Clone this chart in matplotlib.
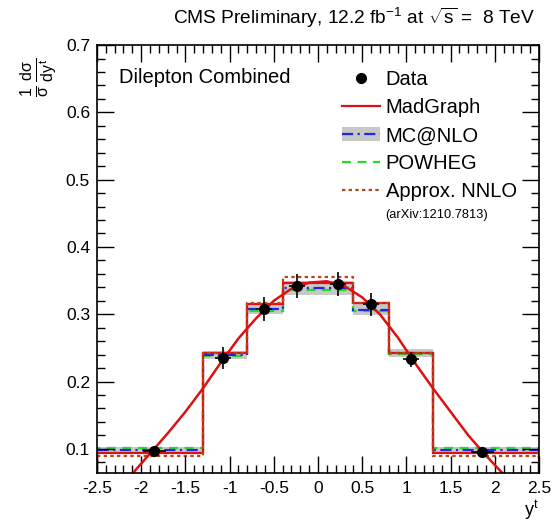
import matplotlib
matplotlib.use("Agg")
import matplotlib.pyplot as plt
from matplotlib.lines import Line2D
from matplotlib.patches import Patch
from matplotlib.ticker import MultipleLocator

plt.rcParams["font.family"] = ["Liberation Sans", "DejaVu Sans"]
plt.rcParams["mathtext.fontset"] = "custom"
plt.rcParams["mathtext.rm"] = "Liberation Sans"
plt.rcParams["mathtext.it"] = "Liberation Sans"
plt.rcParams["axes.unicode_minus"] = False

# rapidity bins
edges = [-2.5, -1.3, -0.8, -0.4, 0.0, 0.4, 0.8, 1.3, 2.5]

# data points
data_x = [-1.85, -1.07, -0.61, -0.24, 0.23, 0.60, 1.05, 1.86]
data_y = [0.097, 0.235, 0.308, 0.342, 0.345, 0.315, 0.233, 0.095]
data_yerr = [0.005, 0.016, 0.018, 0.018, 0.018, 0.017, 0.011, 0.005]
data_xerr = [0.13, 0.09, 0.09, 0.09, 0.09, 0.09, 0.09, 0.13]

# predictions per bin
madgraph = [0.094, 0.242, 0.315, 0.347, 0.347, 0.316, 0.243, 0.094]
mcatnlo = [0.0985, 0.239, 0.308, 0.339, 0.339, 0.307, 0.242, 0.0985]
mcatnlo_unc = [0.004, 0.006, 0.008, 0.010, 0.010, 0.008, 0.006, 0.004]
powheg = [0.101, 0.238, 0.305, 0.336, 0.336, 0.305, 0.241, 0.101]
nnlo = [0.090, 0.243, 0.317, 0.356, 0.356, 0.317, 0.243, 0.090]

# smooth red curve
curve_x = [-2.1, -1.9, -1.7, -1.5, -1.3, -1.1, -0.9, -0.7, -0.5, -0.3, -0.1,
           0.1, 0.3, 0.5, 0.7, 0.9, 1.1, 1.3, 1.5, 1.7, 1.9, 2.1]
curve_y = [0.063, 0.093, 0.123, 0.155, 0.190, 0.228, 0.264, 0.294, 0.320, 0.338, 0.347,
           0.349, 0.342, 0.325, 0.300, 0.266, 0.227, 0.190, 0.155, 0.120, 0.090, 0.062]

fig = plt.figure(figsize=(5.54, 5.21), dpi=100)
ax = fig.add_axes([0.175, 0.092, 0.798, 0.8215])

lo = [v - u for v, u in zip(mcatnlo, mcatnlo_unc)]
hi = [v + u for v, u in zip(mcatnlo, mcatnlo_unc)]
ax.stairs(hi, edges, baseline=lo, fill=True, color="#c8c8c8", lw=0)
ax.stairs(powheg, edges, color="#22dd22", lw=1.6, ls=(0, (4, 3)))
ax.stairs(mcatnlo, edges, color="#2222ee", lw=1.6, ls=(0, (5, 2, 1, 2)))
ax.stairs(madgraph, edges, color="#dd1111", lw=1.6)
ax.stairs(nnlo, edges, color="#b5451b", lw=1.6, ls=(0, (1.5, 1.5)))
ax.plot(curve_x, curve_y, color="#dd1111", lw=1.8, clip_on=True)
ax.errorbar(data_x, data_y, yerr=data_yerr, xerr=data_xerr, fmt="o", color="black",
            ms=7, elinewidth=1.2, capsize=0, zorder=5)

ax.set_xlim(-2.5, 2.5)
ax.set_ylim(0.064, 0.7)
ax.xaxis.set_minor_locator(MultipleLocator(0.1))
ax.yaxis.set_minor_locator(MultipleLocator(0.02))
ax.set_xticks([-2.5, -2, -1.5, -1, -0.5, 0, 0.5, 1, 1.5, 2, 2.5])
ax.set_xticklabels(["-2.5", "-2", "-1.5", "-1", "-0.5", "0", "0.5", "1", "1.5", "2", "2.5"])
ax.set_yticks([0.1, 0.2, 0.3, 0.4, 0.5, 0.6, 0.7])
ax.set_yticklabels(["0.1", "0.2", "0.3", "0.4", "0.5", "0.6", "0.7"])
ax.tick_params(which="both", direction="in", top=True, right=True, labelsize=12.5)
ax.tick_params(which="major", length=12, width=1)
ax.tick_params(which="minor", length=6, width=1)
ax.tick_params(axis="x", pad=6)
ax.tick_params(axis="y", pad=5)
for s in ax.spines.values():
    s.set_linewidth(1.2)

ax.text(0.05, 0.925, "Dilepton Combined", transform=ax.transAxes, fontsize=14.5,
        va="center")

handles = [
    Line2D([], [], marker="o", color="black", ls="none", ms=7),
    Line2D([], [], color="#dd1111", lw=1.6),
    (Patch(facecolor="#c8c8c8", edgecolor="none"),
     Line2D([], [], color="#2222ee", lw=1.6, ls=(0, (5, 2, 1, 2)))),
    Line2D([], [], color="#22dd22", lw=1.6, ls=(0, (4, 3))),
    Line2D([], [], color="#b5451b", lw=1.6, ls=(0, (1.5, 1.5))),
]
labels = ["Data", "MadGraph", "MC@NLO", "POWHEG", "Approx. NNLO"]
ax.legend(handles, labels, loc="upper left", bbox_to_anchor=(0.535, 0.96), frameon=False,
          fontsize=14.5, handlelength=1.9, handletextpad=0.3, labelspacing=0.45,
          borderaxespad=0)
ax.text(0.653, 0.603, "(arXiv:1210.7813)", transform=ax.transAxes, fontsize=9.3,
        va="center")

fig.text(0.966, 0.965, r"CMS Preliminary, 12.2 fb$^{-1}$ at $\sqrt{s}$ =  8 TeV",
         ha="right", va="center", fontsize=13.8)
fig.text(0.07, 0.852, r"$\frac{1}{\sigma}\,\frac{d\sigma}{dy^{t}}$", rotation=90,
         ha="center", va="center", fontsize=16.5)
fig.text(0.972, 0.02, r"y$^{t}$", ha="right", va="center", fontsize=13)

fig.savefig("out.png", dpi=100)
